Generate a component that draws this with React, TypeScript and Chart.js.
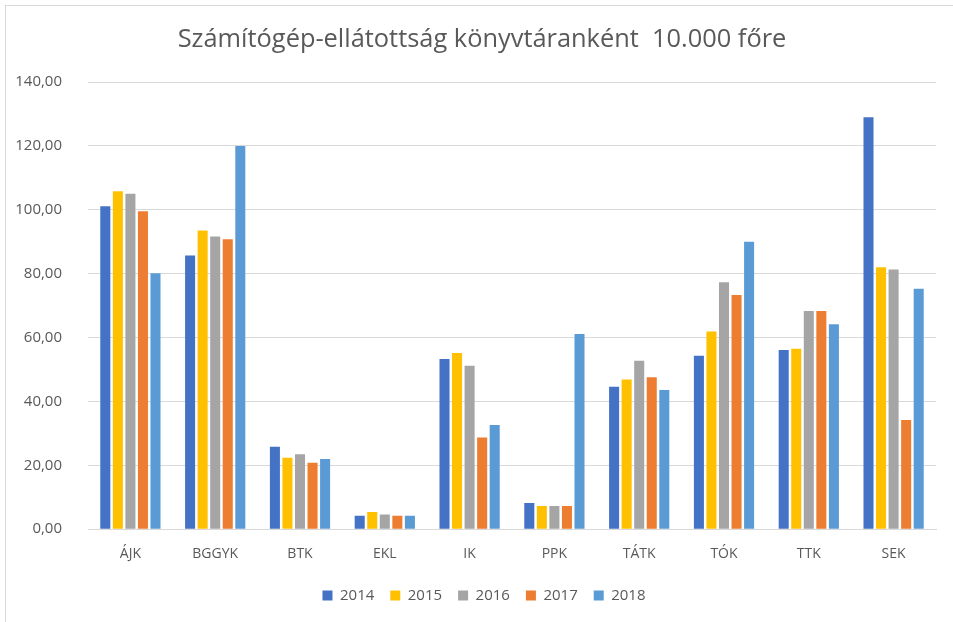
import React, { useEffect, useRef } from "react";
import { Chart, registerables } from "chart.js";

Chart.register(...registerables);

const categories = ["ÁJK", "BGGYK", "BTK", "EKL", "IK", "PPK", "TÁTK", "TÓK", "TTK", "SEK"];
const years = ["2014", "2015", "2016", "2017", "2018"];
const colors = ["#4472C4", "#FFC000", "#A5A5A5", "#ED7D31", "#5B9BD5"];
const v2014 = [101.1, 85.7, 25.8, 4.2, 53.3, 8.2, 44.6, 54.3, 56.1, 129.0];
const v2015 = [105.8, 93.5, 22.4, 5.4, 55.2, 7.3, 46.9, 61.9, 56.5, 82.0];
const v2016 = [105.0, 91.6, 23.5, 4.6, 51.2, 7.3, 52.7, 77.3, 68.3, 81.3];
const v2017 = [99.5, 90.8, 20.8, 4.2, 28.7, 7.3, 47.6, 73.3, 68.3, 34.2];
const v2018 = [80.1, 120.0, 22.0, 4.2, 32.6, 61.1, 43.6, 90.0, 64.2, 75.3];
const series = [v2014, v2015, v2016, v2017, v2018];
const title = "Számítógép-ellátottság könyvtáranként  10.000 főre";

const titlePlugin = {
  id: "offsetTitle",
  afterLayout(chart: any) {
    if (chart.legend) {
      chart.legend.left += 16;
      chart.legend.right += 16;
      chart.legend.top -= 1;
      chart.legend.bottom -= 1;
    }
  },
  afterDraw(chart: any) {
    const ctx = chart.ctx;
    ctx.save();
    ctx.font = "25.4px 'Open Sans', sans-serif";
    ctx.fillStyle = "#595959";
    ctx.textAlign = "center";
    ctx.textBaseline = "middle";
    ctx.fillText(title, 482, 40);
    ctx.restore();
  },
};

export default function App() {
  const ref = useRef<HTMLCanvasElement>(null);
  useEffect(() => {
    document.body.style.margin = "0";
    document.body.style.overflow = "hidden";
    const chart = new Chart(ref.current!, {
      type: "bar",
      data: {
        labels: categories,
        datasets: years.map((y, i) => ({
          label: y,
          data: series[i],
          backgroundColor: colors[i],
          borderWidth: 0,
          barPercentage: 0.8,
          categoryPercentage: 0.74,
        })),
      },
      plugins: [titlePlugin],
      options: {
        animation: false,
        responsive: false,
        layout: { padding: { left: 0, right: 17, top: 82, bottom: 8 } },
        plugins: {
          title: { display: false },
          legend: {
            position: "bottom",
            labels: {
              boxWidth: 10,
              boxHeight: 10,
              color: "#595959",
              font: { family: "'Open Sans', sans-serif", size: 15 },
              padding: 16,
            },
          },
          tooltip: { enabled: false },
        },
        scales: {
          x: {
            afterFit: (s: any) => {
              s.height += 3;
            },
            grid: { display: false },
            border: { display: true, color: "#d9d9d9" },
            ticks: { color: "#595959", font: { family: "'Open Sans', sans-serif", size: 14 }, padding: 8 },
          },
          y: {
            min: 0,
            max: 140,
            afterFit: (s: any) => {
              s.width = 88;
            },
            grid: { color: "#d9d9d9", drawTicks: false },
            border: { display: false },
            ticks: {
              stepSize: 20,
              padding: 26,
              color: "#595959",
              font: { family: "'Open Sans', sans-serif", size: 15 },
              callback: (v: any) => Number(v).toFixed(2).replace(".", ","),
            },
          },
        },
      },
    });
    return () => chart.destroy();
  }, []);
  return (
    <div style={{ position: "fixed", left: 0, top: 0, width: 953, height: 622, background: "#fff" }}>
      <div style={{ position: "absolute", left: 5, top: 5, width: 980, height: 660, border: "1px solid #d9d9d9" }} />
      <canvas ref={ref} width={953} height={622} style={{ position: "absolute", left: 0, top: 0 }} />
    </div>
  );
}
